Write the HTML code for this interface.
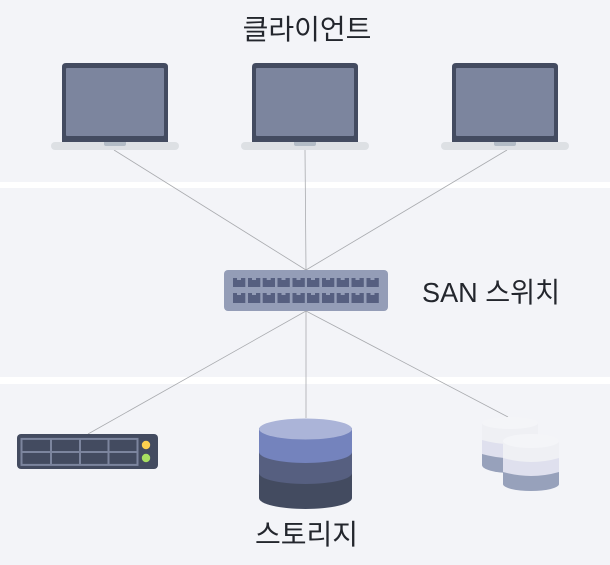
<!DOCTYPE html>
<html><head><meta charset="utf-8"><style>
html,body{margin:0;padding:0;background:#fff;width:610px;height:565px;overflow:hidden}
svg{display:block}
text{font-family:"Liberation Sans","Noto Sans CJK KR",sans-serif;font-size:28px;fill:#23262d}
</style></head><body>
<svg width="610" height="565" viewBox="0 0 610 565" xmlns="http://www.w3.org/2000/svg">
<defs>
<g id="laptop">
<path d="M0 79V4Q0 0 4 0H102Q106 0 106 4V79Z" fill="#434b60"/>
<rect x="4" y="5" width="98" height="68" rx="1" fill="#7c859e"/>
<rect x="-11" y="79" width="128" height="8" rx="4" fill="#dde0e4"/>
<path d="M42 79H64V81Q64 83 62 83H44Q42 83 42 81Z" fill="#b3bcc6"/>
</g>
</defs>
<rect x="-5" y="-5" width="620" height="187" rx="4" fill="#f3f4f8"/>
<rect x="-5" y="188" width="620" height="189" rx="4" fill="#f3f4f8"/>
<rect x="-5" y="384" width="620" height="190" rx="4" fill="#f3f4f8"/>
<g stroke="#a9abaf" stroke-width="0.8" fill="none">
<path d="M114 150L306 270M305 150L306 270M507 150L306 270M306 311L88 434M306 311V418M306 311L508 417"/>
</g>
<use href="#laptop" x="62" y="63"/>
<use href="#laptop" x="252" y="63"/>
<use href="#laptop" x="452" y="63"/>
<rect x="224" y="270" width="164" height="41" rx="4" fill="#949db7"/>
<g fill="#565f80">
<path d="M233 278h4v2h4v-2h4.300v9h-12.300zM248 278h4v2h4v-2h4.300v9h-12.300zM262.700 278h4v2h4v-2h4.300v9h-12.300zM277.500 278h4v2h4v-2h4.300v9h-12.300zM292.500 278h4v2h4v-2h4.300v9h-12.300zM307 278h4v2h4v-2h4.300v9h-12.300zM322 278h4v2h4v-2h4.300v9h-12.300zM336.700 278h4v2h4v-2h4.300v9h-12.300zM351.500 278h4v2h4v-2h4.300v9h-12.300zM366.500 278h4v2h4v-2h4.300v9h-12.300z"/>
<path d="M233 293h4v2h4v-2h4.300v10h-12.300zM248 293h4v2h4v-2h4.300v10h-12.300zM262.700 293h4v2h4v-2h4.300v10h-12.300zM277.500 293h4v2h4v-2h4.300v10h-12.300zM292.500 293h4v2h4v-2h4.300v10h-12.300zM307 293h4v2h4v-2h4.300v10h-12.300zM322 293h4v2h4v-2h4.300v10h-12.300zM336.700 293h4v2h4v-2h4.300v10h-12.300zM351.500 293h4v2h4v-2h4.300v10h-12.300zM366.500 293h4v2h4v-2h4.300v10h-12.300z"/>
</g>
<rect x="17" y="434" width="141" height="35" rx="4" fill="#434b60"/>
<g fill="none" stroke="#7c859e" stroke-width="2">
<rect x="21.500" y="438.900" width="116" height="26"/>
<path d="M21.500 452H137.500M51 439V465M80 439V465M108.500 439V465"/>
</g>
<circle cx="146" cy="445" r="4.200" fill="#fdd04f"/>
<circle cx="146" cy="458" r="4.200" fill="#a8e061"/>
<path d="M259 428V498A46.500 11 0 0 0 352 498V428Z" fill="#434b60"/>
<path d="M259 428V473A46.500 11 0 0 0 352 473V428Z" fill="#565f80"/>
<path d="M259 428V452A46.500 11 0 0 0 352 452V428Z" fill="#7483bd"/>
<ellipse cx="305.500" cy="429" rx="46.500" ry="10.500" fill="#abb4d8"/>
<path d="M482 423V465A28 8 0 0 0 538 465V423Z" fill="#97a1bb"/>
<path d="M482 423V454Q510 462 538 454V423Z" fill="#dfe0ee"/>
<path d="M482 423V440Q510 448 538 440V423Z" fill="#eff0f4"/>
<ellipse cx="510" cy="423" rx="28" ry="6" fill="#f4f5f8"/>
<path d="M503 441V484A28 7 0 0 0 559 484V441Z" fill="#97a1bb"/>
<path d="M503 441V472Q531 480 559 472V441Z" fill="#dfe0ee"/>
<path d="M503 441V458Q531 466 559 458V441Z" fill="#eff0f4"/>
<ellipse cx="531" cy="441" rx="28" ry="7" fill="#f4f5f8"/>
<text x="307" y="39" text-anchor="middle">클라이언트</text>
<text x="422" y="302" textLength="138" lengthAdjust="spacingAndGlyphs">SAN 스위치</text>
<text x="306.500" y="544" text-anchor="middle">스토리지</text>
</svg>
</body></html>
